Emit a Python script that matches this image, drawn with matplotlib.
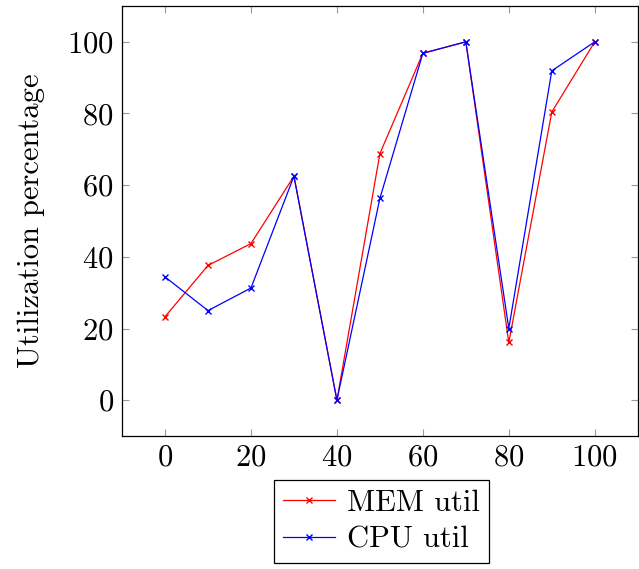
import matplotlib
matplotlib.use("Agg")
import matplotlib.pyplot as plt

# --- data ---
x_vals = [0, 10, 20, 30, 40, 50, 60, 70, 80, 90, 100]
mem_util = [23.3, 37.6, 43.7, 62.5, 0.0, 68.8, 96.8, 100.0, 16.1, 80.4, 100.0]
cpu_util = [34.4, 25.0, 31.3, 62.5, 0.0, 56.3, 96.8, 100.0, 20.0, 91.9, 100.0]
x_ticks = [0, 20, 40, 60, 80, 100]
y_ticks = [0, 20, 40, 60, 80, 100]

plt.rcParams['font.family'] = 'cmr10'
plt.rcParams['mathtext.fontset'] = 'cm'
plt.rcParams['axes.formatter.use_mathtext'] = True

fig = plt.figure(figsize=(6.39, 5.69), dpi=100)
ax = fig.add_axes([0.191, 0.2337, 0.807, 0.7558])

ax.plot(x_vals, mem_util, color='red', marker='x', markersize=5, lw=0.9, label='MEM util')
ax.plot(x_vals, cpu_util, color='blue', marker='x', markersize=5, lw=0.9, label='CPU util')

ax.set_xlim(-10, 110)
ax.set_ylim(-10, 110)
ax.set_xticks(x_ticks)
ax.set_yticks(y_ticks)
ax.tick_params(direction='in', length=5, width=0.8, color='#999999',
               top=True, right=True, labelsize=22, pad=6)
for s in ax.spines.values():
    s.set_linewidth(0.9)

ax.set_ylabel('Utilization percentage', fontsize=22, labelpad=16)

leg = ax.legend(loc='upper center', bbox_to_anchor=(0.503, -0.103), fontsize=22,
                fancybox=False, edgecolor='black', framealpha=1,
                handlelength=1.7, handletextpad=0.4, borderpad=0.3, labelspacing=0.3,
                borderaxespad=0.0)
leg.get_frame().set_linewidth(0.9)

fig.savefig('out.png', dpi=100)
